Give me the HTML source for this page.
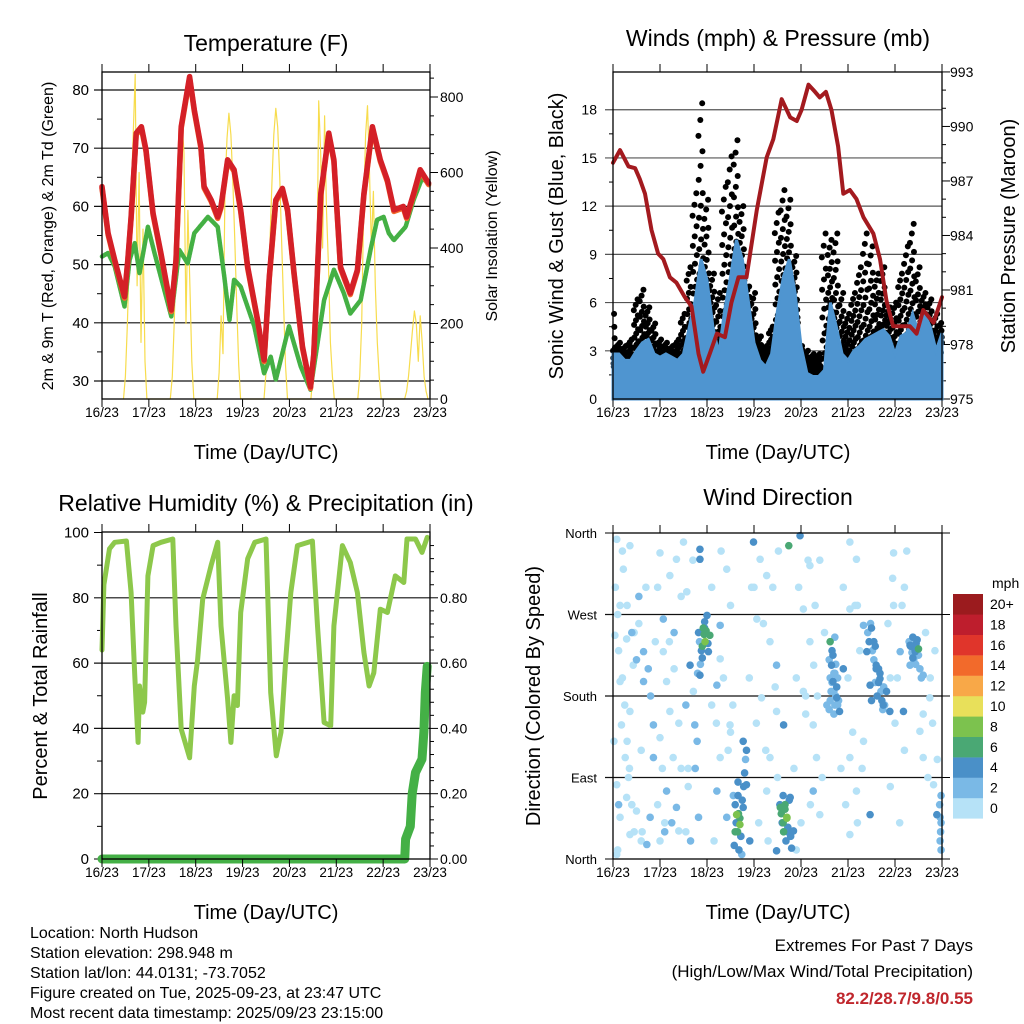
<!DOCTYPE html>
<html><head><meta charset="utf-8">
<style>
html,body{margin:0;padding:0;background:#fff;}
svg{display:block;font-family:"Liberation Sans",sans-serif;}
</style></head>
<body>
<svg id="chart" width="1024" height="1024" viewBox="0 0 1024 1024" xmlns="http://www.w3.org/2000/svg">
<rect width="1024" height="1024" fill="#fff"/>
<g id="layer"></g>
<g font-size="15" fill="#000">
<text x="266" y="51" font-size="23" text-anchor="middle">Temperature (F)</text>
<text x="778" y="46" font-size="23" text-anchor="middle">Winds (mph) &amp; Pressure (mb)</text>
<text x="266" y="511" font-size="23" text-anchor="middle">Relative Humidity (%) &amp; Precipitation (in)</text>
<text x="778" y="505" font-size="23" text-anchor="middle">Wind Direction</text>
<text x="266" y="459" font-size="20" text-anchor="middle">Time (Day/UTC)</text>
<text x="778" y="459" font-size="20" text-anchor="middle">Time (Day/UTC)</text>
<text x="266" y="919" font-size="20" text-anchor="middle">Time (Day/UTC)</text>
<text x="778" y="919" font-size="20" text-anchor="middle">Time (Day/UTC)</text>
<text transform="translate(53,236) rotate(-90)" font-size="16" text-anchor="middle">2m &amp; 9m T (Red, Orange) &amp; 2m Td (Green)</text>
<text transform="translate(497,236) rotate(-90)" font-size="16" text-anchor="middle">Solar Insolation (Yellow)</text>
<text transform="translate(563,236) rotate(-90)" font-size="20" text-anchor="middle">Sonic Wind &amp; Gust (Blue, Black)</text>
<text transform="translate(1015,236) rotate(-90)" font-size="20" text-anchor="middle">Station Pressure (Maroon)</text>
<text transform="translate(47,696) rotate(-90)" font-size="20" text-anchor="middle">Percent &amp; Total Rainfall</text>
<text transform="translate(540,696) rotate(-90)" font-size="20" text-anchor="middle">Direction (Colored By Speed)</text>
<g font-size="16">
<text x="30" y="938">Location: North Hudson</text>
<text x="30" y="958">Station elevation: 298.948 m</text>
<text x="30" y="978">Station lat/lon: 44.0131; -73.7052</text>
<text x="30" y="998">Figure created on Tue, 2025-09-23, at 23:47 UTC</text>
<text x="30" y="1018">Most recent data timestamp: 2025/09/23 23:15:00</text>
</g>
<g font-size="17" text-anchor="end">
<text x="973" y="951">Extremes For Past 7 Days</text>
<text x="973" y="977">(High/Low/Max Wind/Total Precipitation)</text>
<text x="973" y="1004" fill="#c0272d" font-weight="bold">82.2/28.7/9.8/0.55</text>
</g>
</g>
</svg>
<script>
// ---------- data ----------
const dayLabels=["16/23","17/23","18/23","19/23","20/23","21/23","22/23","23/23"];
const tempTicks=[30,40,50,60,70,80];
const solarTicks=[0,200,400,600,800];
const windTicks=[0,3,6,9,12,15,18];
const presTicks=[975,978,981,984,987,990,993];
const rhTicks=[0,20,40,60,80,100];
const rainTicks=["0.00","0.20","0.40","0.60","0.80"];
const dirLabels=["North","East","South","West","North"];
const speedBins=["0","2","4","6","8","10","12","14","16","18","20+"];

const redT_t=[0,.13,.27,.48,.55,.62,.73,.84,.94,1.09,1.26,1.48,1.58,1.69,1.87,1.97,2.11,2.18,2.33,2.47,2.54,2.68,2.82,2.96,3.11,3.32,3.46,3.57,3.71,3.85,3.96,4.1,4.28,4.45,4.52,4.67,4.84,4.95,5.09,5.3,5.45,5.59,5.77,5.94,6.09,6.23,6.43,6.5,6.65,6.79,6.97];
const redT_v=[63.4,55.4,50.8,44.5,50.8,58.2,72.6,73.7,69.7,58.8,51.9,42.2,50.8,73.7,82.3,76.6,70.3,63.4,61.1,58.2,60,68,66.3,59.4,49.6,40.5,33.6,47.9,61.1,63.1,59.4,48.5,35.9,29,34.7,62.2,72.6,68,49.6,45.1,49.1,62.2,73.7,68,64.5,59.4,60,58.2,62.2,66.3,64];
const dew_t=[0,.13,.27,.48,.59,.7,.8,.98,1.12,1.48,1.65,1.83,1.97,2.26,2.47,2.61,2.72,2.82,2.96,3.25,3.46,3.6,3.71,3.85,3.99,4.24,4.45,4.74,4.95,5.16,5.3,5.52,5.73,5.87,6.01,6.12,6.23,6.48,6.65,6.83,6.97];
const dew_v=[51.4,52,49.7,42.8,50.8,53.7,48.5,56.5,52,41.1,52.5,50.2,55.4,58.2,56.5,47.9,40.5,47.4,46.2,39.4,31.3,34.2,30.2,34.8,39.4,32.5,28.5,43.9,49.1,45.1,41.6,43.9,52.5,57.7,58.2,55.4,54.2,56.5,61.1,64.8,64];
const solarHours=[11,12,13,14,15,16,17,18,19,20,21,22,23];
const solarByDay=[
[0,60,200,380,550,700,860,300,600,150,450,100,0],
[0,60,200,400,560,700,740,650,200,500,300,100,0],
[0,70,220,120,560,690,757,700,580,420,250,90,0],
[0,70,230,410,570,700,770,720,590,420,250,90,0],
[0,60,200,300,790,650,400,750,500,350,150,60,0],
[0,60,200,500,700,777,600,400,550,300,150,60,0],
[0,20,60,120,180,233,200,100,220,150,60,20,0]];

const pres_t=[0,.15,.33,.47,.57,.68,.82,.96,1.07,1.21,1.35,1.53,1.67,1.82,1.92,2.06,2.21,2.38,2.52,2.67,2.84,3.06,3.27,3.41,3.59,3.77,3.91,4.01,4.16,4.3,4.4,4.53,4.65,4.79,4.9,5.04,5.18,5.33,5.54,5.68,5.82,5.96,6.11,6.32,6.46,6.6,6.82,7.0];
const pres_v=[988.0,988.7,987.8,987.7,987.1,986.3,984.3,983.0,982.7,981.7,981.4,980.6,980.1,977.5,976.5,977.5,978.6,978.4,980.3,981.7,981.7,985.4,988.3,989.3,991.5,990.5,990.3,990.9,992.3,991.9,991.6,991.9,990.9,988.9,986.3,986.5,986.0,985.0,984.1,982.7,980.4,979.0,979.0,979.0,978.6,979.9,979.2,980.6];
const wind3h=[2.8,2.8,2.4,2.4,3.0,3.5,3.7,2.8,2.6,2.8,2.6,2.4,2.8,4.5,6.2,8.7,7.4,4.5,2.8,5.5,7.6,9.9,8.7,6.2,3.5,2.4,2.0,2.8,5.5,7.6,8.7,6.6,3.3,1.6,1.4,1.4,1.8,6.0,4.5,2.8,2.4,3.0,3.3,3.7,3.9,4.1,4.3,3.9,2.8,3.9,4.1,5.3,4.1,5.3,4.5,3.0,4.1];
const gust3h=[5.3,3.5,3.3,3.7,6.2,6.8,5.7,4.7,3.7,3.5,3.3,3.7,5.3,8.2,12.8,18.4,12.4,7.8,6.6,13.2,15.1,16.1,12,7,6.6,3.9,3.3,4.5,11.6,13,12.4,8.9,3.3,3.0,2.8,2.8,10.3,9.9,10.3,6.6,5.3,6.6,8.2,10.3,9.5,7.8,8.2,5.7,6.0,7.8,9.5,10.9,8.2,6.6,6.2,5.3,4.9];

const rh_t=[0,.04,.16,.27,.52,.62,.7,.77,.8,.87,.91,.98,1.09,1.26,1.51,1.58,1.69,1.87,1.97,2.04,2.15,2.33,2.47,2.54,2.68,2.75,2.82,2.89,2.96,3.11,3.26,3.5,3.6,3.72,3.82,3.92,4.03,4.17,4.49,4.6,4.74,4.88,4.95,5.13,5.3,5.45,5.59,5.7,5.8,5.94,6.09,6.26,6.44,6.51,6.69,6.83,6.94];
const rh_v=[64,84,95,97,97.4,81.6,56,35.7,53,45,48,86.7,96,97,98,71.4,39.8,31,53,61,79.6,90,97,71.4,49,35.7,50,47,75.5,92,97,98,51,31.6,38.8,61,81.6,96,97.4,71.4,41.8,40.8,71.4,96,90.8,81.6,63.3,53,57,76.5,75.5,86.7,84.7,98,98,93.9,98.5];
const rain_t=[0,6.46,6.48,6.58,6.62,6.69,6.83,6.87,6.9,6.94];
const rain_v=[0,0,0.061,0.10,0.20,0.265,0.306,0.39,0.51,0.59];

// wind direction points: time (days), direction (deg), speed (mph)
const dir_t=[.08,.22,.36,.15,.04,.29,.43,.15,.36,.18,.26,.08,.29,.15,.36,.08,.5,.65,.65,.86,.86,.79,.72,1.0,1.21,1.35,1.07,1.07,1.14,1.21,1.0,1.28,1.14,1.35,1.0,1.4,1.57,1.64,1.71,1.74,1.79,1.82,1.85,1.85,2.0,1.96,2.06,2.03,1.85,2.21,2.42,2.28,2.28,2.49,2.28,2.21,2.42,2.63,2.7,2.77,2.84,2.77,2.91,2.99,3.13,3.27,3.06,3.34,3.48,3.16,3.48,3.63,3.34,3.27,3.56,3.7,3.77,3.84,3.48,3.74,3.98,4.19,4.05,4.19,4.27,4.05,4.26,4.33,4.26,4.4,4.62,4.65,4.68,4.76,4.55,4.82,4.9,5.04,5.18,5.04,5.33,5.4,5.55,5.6,5.47,5.68,5.75,5.82,5.89,5.33,5.04,5.18,5.47,5.04,5.97,5.97,6.11,6.18,6.32,6.43,6.5,6.32,6.6,6.74,6.53,6.6,6.82,6.89,6.96,6.96,
.12,.33,.55,.45,.6,.95,1.1,1.3,1.45,1.55,1.9,1.95,2.6,2.66,2.72,3.62,3.66,3.72,4.7,4.72,4.78,5.5,5.58,5.65,6.38,6.45,6.98,6.98,1.6,2.1,2.5,3.0,3.9,4.1,4.4,5.2,5.9,6.2,0.02,0.4];
const dir_v=[353,320,346,280,247,243,214,196,163,148,112,82,68,46,27,5,53,229,196,148,112,46,16,338,313,331,265,229,196,163,134,112,75,57,20,31,295,214,185,148,130,46,342,331,269,240,247,229,203,192,320,258,221,148,112,75,46,49,38,57,82,130,20,350,331,313,265,240,214,178,163,148,112,75,57,46,68,31,9,346,357,324,276,240,214,185,148,112,75,49,240,214,196,178,170,163,210,350,331,276,258,229,240,214,192,199,170,185,163,130,112,75,49,27,338,280,229,163,236,229,232,214,203,178,141,112,82,49,20,46,
60,90,290,250,20,300,40,250,100,30,235,255,30,70,25,40,60,30,185,205,170,175,195,210,222,238,40,70,100,170,140,300,10,180,330,280,200,300,130,60];
const dir_s=[1,1,1,1,1,1,1,1,1,1,1,1,1,1,1,1,1,3,3,3,3,3,3,1,1,1,3,1,1,1,1,1,3,3,1,1,1,4,1,3,3,3,5,5,5,8,7,5,4,3,1,3,1,1,1,3,3,9,8,5,5,4,4,4,1,1,1,1,3,1,1,4,1,1,7,8,5,5,4,7,4,1,1,1,1,1,1,1,3,1,7,4,4,4,3,4,4,1,1,1,3,4,5,4,4,5,4,5,4,1,1,1,4,1,1,1,3,4,5,5,7,3,3,1,1,1,1,4,3,3,
3,1,3,1,1,1,1,3,1,1,7,5,6,5,3,6,7,5,3,3,3,4,3,4,4,5,3,3,1,1,1,1,1,1,1,1,1,1,1,1];
const dir2_t=[4.6,4.62,4.64,4.66,4.7,4.72,4.74,4.76,4.78,4.6,4.68,4.74,4.8,4.7,4.62,4.66,4.72,
5.42,5.45,5.5,5.52,5.55,5.6,5.65,5.7,5.72,5.76,5.78,5.62,5.68,5.58,5.48,5.74,
6.3,6.33,6.36,6.4,6.44,6.47,6.5,6.53,6.38,6.42,6.56,
1.82,1.84,1.88,1.9,1.92,1.94,1.98,2.02,1.86,1.8,1.95,
2.56,2.6,2.62,2.65,2.67,2.7,2.72,2.75,2.78,2.8,2.58,2.68,2.74,2.66,2.82,2.84,
3.55,3.58,3.6,3.63,3.66,3.7,3.72,3.75,3.78,3.8,3.62,3.68,
0.05,0.1,0.12,0.2,0.25,0.3,0.35,0.4,0.45,0.1,0.2,0.3,0.4,0.5,0.55,0.6,0.62,0.7,0.75,0.8,0.9,0.95,1.05,1.1,1.2,1.25,1.3,1.4,1.45,1.5,1.55,1.6,1.65,1.7,1.75,2.1,2.15,2.2,2.3,2.35,2.45,2.5,2.55,2.9,2.95,3.05,3.1,3.2,3.25,3.3,3.4,3.45,3.5,3.52,3.85,3.9,3.95,4.0,4.1,4.15,4.2,4.3,4.35,4.45,4.5,4.85,4.9,4.95,5.0,5.1,5.15,5.2,5.25,5.3,5.85,5.9,5.95,6.0,6.05,6.1,6.15,6.2,6.25,6.6,6.65,6.7,6.75,6.8,6.85,6.9,6.97,6.95,6.98];
const dir2_v=[165,175,185,195,205,170,180,190,200,220,225,215,175,160,200,230,245,
250,240,255,230,220,210,195,185,175,190,170,180,205,235,260,165,
240,235,228,220,215,242,225,210,245,232,200,
250,240,230,222,255,248,252,238,215,205,262,
70,60,40,30,50,45,25,65,80,95,15,10,5,85,110,120,
60,50,40,30,55,45,35,65,25,12,70,20,
300,270,230,200,170,130,100,60,30,10,340,280,250,220,260,120,30,300,210,180,240,60,100,30,240,40,210,150,290,350,170,80,20,330,100,300,20,150,340,200,120,280,170,200,300,150,40,260,120,20,300,190,90,340,100,200,300,40,160,330,60,280,180,90,250,100,300,60,200,140,280,40,230,100,260,80,310,150,200,40,280,120,340,160,250,90,200,150,230,110,30,60,10];
const dir2_s=[3,3,3,3,3,3,3,4,3,3,4,3,3,3,3,4,3,
3,4,4,3,3,4,4,3,4,3,3,4,5,4,3,3,
3,4,3,3,3,5,3,3,5,4,3,
4,3,4,4,6,7,7,5,3,3,4,
3,4,5,6,7,6,5,4,4,4,4,4,3,5,3,4,
5,6,4,6,7,8,5,4,4,4,4,4,
1,1,1,1,1,1,1,1,1,1,1,1,3,3,1,1,1,1,3,3,1,1,1,3,1,3,1,1,1,1,3,1,3,1,3,1,1,1,1,1,1,1,1,1,1,1,1,1,1,1,1,1,1,1,1,1,1,1,1,1,1,1,1,1,1,1,1,1,1,1,1,1,1,1,1,1,1,1,1,1,1,1,1,1,1,1,1,1,1,1,3,3,3];

// ---------- helpers ----------
const NS="http://www.w3.org/2000/svg";
const layer=document.getElementById('layer');
function mk(tag,attrs,parent){const e=document.createElementNS(NS,tag);for(const k in attrs)e.setAttribute(k,attrs[k]);(parent||layer).appendChild(e);return e;}
function txt(x,y,s,size,anchor,parent){const e=mk('text',{x:x,y:y,'font-size':size,'text-anchor':anchor},parent);e.textContent=s;return e;}

function panel(name,L,R,T,B){
  const g=mk('g',{});
  
  
  return {g,L,R,T,B,x:d=>L+(R-L)*d/7};
}
function frame(p){
  const f=mk('rect',{x:p.L,y:p.T,width:p.R-p.L,height:p.B-p.T,fill:'none',stroke:'#000','stroke-width':1.3},p.g);
  
  
  for(let d=0;d<=7;d++){
    const x=p.x(d);
    mk('line',{x1:x,x2:x,y1:p.B,y2:p.B+8,stroke:'#000'},p.g);
    mk('line',{x1:x,x2:x,y1:p.T,y2:p.T-8,stroke:'#000'},p.g);
    const t=txt(x,p.B+18,dayLabels[d],13.5,'middle',p.g);
    
    
  }
}
function hgrid(p,y,col){mk('line',{x1:p.L-8,x2:p.R,y1:y,y2:y,stroke:col||'#111','stroke-width':1.2},p.g);}
function poly(p,xs,ys,attrs,name){
  const pts=xs.map((v,i)=>xs[i].toFixed(1)+','+ys[i].toFixed(1)).join(' ');
  const e=mk('polyline',Object.assign({points:pts,fill:'none','stroke-linejoin':'round','stroke-linecap':'round'},attrs),p.g);
  
  
  return e;
}

// ---------- Temperature ----------
{
  const p=panel('temperature-panel',102,430,72,399);
  const yT=v=>381-(v-30)*5.82;
  const yS=v=>399-v*0.3775;
  tempTicks.forEach(v=>{hgrid(p,yT(v));const t=txt(89,yT(v)+5,String(v),15,'end',p.g);});
  for(let v=35;v<=80;v+=10) mk('line',{x1:p.L-5,x2:p.L,y1:yT(v),y2:yT(v),stroke:'#000'},p.g);
  solarTicks.forEach(v=>{mk('line',{x1:p.R,x2:p.R+8,y1:yS(v),y2:yS(v),stroke:'#000'},p.g);const t=txt(440,yS(v)+5,String(v),14,'start',p.g);});
  for(let v=50;v<=850;v+=50) if(v%200) mk('line',{x1:p.R,x2:p.R+4,y1:yS(v),y2:yS(v),stroke:'#000'},p.g);
  const sx=[],sy=[];
  solarByDay.forEach((arr,d)=>arr.forEach((v,i)=>{sx.push(p.x(d+solarHours[i]/24));sy.push(yS(Math.min(v,870)));}));
  poly(p,sx,sy,{stroke:'#f7dc4d','stroke-width':1.2},'solar-insolation-line');
  poly(p,dew_t.map(p.x),dew_v.map(yT),{stroke:'#44b044','stroke-width':4.5,'stroke-dasharray':'2 1'},'dewpoint-line');
  poly(p,redT_t.map(p.x),redT_v.map(v=>yT(v)+1.5),{stroke:'#f26a2b','stroke-width':5.5},'temp-9m-line');
  poly(p,redT_t.map(p.x),redT_v.map(yT),{stroke:'#d42027','stroke-width':5.5},'temp-2m-line');
  frame(p);
}
// ---------- Winds ----------
{
  const p=panel('winds-panel',613,942,72,399);
  const yW=v=>399-v*16.07;
  const yP=v=>399-(v-975)*18.17;
  windTicks.forEach(v=>{if(v>0)hgrid(p,yW(v),'#555');const t=txt(597,yW(v)+5,String(v),14,'end',p.g);});
  presTicks.forEach(v=>{mk('line',{x1:p.R,x2:p.R+8,y1:yP(v),y2:yP(v),stroke:'#000'},p.g);const t=txt(950,yP(v)+5,String(v),14,'start',p.g);});
  for(let v=976;v<993;v++) if((v-975)%3) mk('line',{x1:p.R,x2:p.R+4,y1:yP(v),y2:yP(v),stroke:'#000'},p.g);
  for(let v=1.5;v<19;v+=3) mk('line',{x1:p.L-4,x2:p.L,y1:yW(v),y2:yW(v),stroke:'#000'},p.g);
  const dots=mk('g',{fill:'#000'},p.g);
  
  
  gust3h.forEach((g,i)=>{
    const w=wind3h[i];const lo=Math.max(w*0.7,1.2);
    const n=22;
    for(let k=0;k<n;k++){
      const f=k/(n-1);
      const v=lo+(g-lo)*Math.pow(f,1.8);
      const tt=i*0.125+(((k*7)%n)/n-0.5)*0.125;
      if(tt<0||tt>7) continue;
      mk('circle',{cx:p.x(tt),cy:yW(v),r:3},dots);
    }
  });
  const bx=[p.x(0)],by=[yW(0)];
  wind3h.forEach((v,i)=>{bx.push(p.x(i*0.125));by.push(yW(v));});
  bx.push(p.x(7));by.push(yW(0));
  const pts=bx.map((x,i)=>x.toFixed(1)+','+by[i].toFixed(1)).join(' ');
  const area=mk('polygon',{points:pts,fill:'#4f95d0',stroke:'#4f95d0','stroke-width':3},p.g);
  
  
  poly(p,pres_t.map(p.x),pres_v.map(yP),{stroke:'#a31a1f','stroke-width':4},'pressure-line');
  frame(p);
}
// ---------- RH ----------
{
  const p=panel('humidity-panel',102,430,532,859);
  const yR=v=>859-v*3.265;
  rhTicks.forEach(v=>{if(v>0&&v<100)hgrid(p,yR(v));else mk('line',{x1:p.L-8,x2:p.L,y1:yR(v),y2:yR(v),stroke:'#000'},p.g);const t=txt(89,yR(v)+5,String(v),15,'end',p.g);});
  for(let v=10;v<100;v+=20) mk('line',{x1:p.L-5,x2:p.L,y1:yR(v),y2:yR(v),stroke:'#000'},p.g);
  rainTicks.forEach((s,i)=>{const y=yR(i*20);mk('line',{x1:p.R,x2:p.R+8,y1:y,y2:y,stroke:'#000'},p.g);const t=txt(440,y+5,s,14,'start',p.g);});
  for(let v=4;v<100;v+=4) if(v%20) mk('line',{x1:p.R,x2:p.R+4,y1:yR(v),y2:yR(v),stroke:'#000'},p.g);
  poly(p,rh_t.map(p.x),rh_v.map(yR),{stroke:'#8dc84b','stroke-width':5},'relative-humidity-line');
  poly(p,rain_t.map(p.x),rain_v.map(v=>yR(v*100)),{stroke:'#44b046','stroke-width':9},'precipitation-line');
  frame(p);
}
// ---------- Wind direction ----------
{
  const p=panel('wind-direction-panel',613,942,533,859);
  const yD=v=>859-v*(326/360);
  dirLabels.forEach((s,i)=>{const y=yD(i*90);if(i>0&&i<4)hgrid(p,y);else mk('line',{x1:p.L-8,x2:p.L,y1:y,y2:y,stroke:'#000'},p.g);mk('line',{x1:p.R,x2:p.R+8,y1:y,y2:y,stroke:'#000'},p.g);const t=txt(597,y+5,s,13,'end',p.g);});
  const cols=['#b6e2f7','#7ab9e6','#4a90c8','#4aa874','#7cc24e','#e8e05a','#f8a848','#f26a2b','#e0352b','#be1e2d','#9b1b1e'];
  const dg=mk('g',{},p.g);
  
  
  const T=dir_t.concat(dir2_t),V=dir_v.concat(dir2_v),S=dir_s.concat(dir2_s);
  const order=S.map((s,i)=>i).sort((a,b)=>S[a]-S[b]);
  order.forEach(i=>{
    const c=cols[Math.min(10,Math.floor(S[i]/2))];
    mk('circle',{cx:p.x(T[i]),cy:yD(V[i]),r:3.8,fill:c},dg);
  });
  frame(p);
  const cb=mk('g',{});
  
  
  txt(992,588,'mph',14,'start',cb);
  speedBins.forEach((s,i)=>{
    const y=594+(10-i)*20.4;
    mk('rect',{x:953,y:y,width:30,height:20.6,fill:cols[i]},cb);
    txt(990,y+15,s,14,'start',cb);
  });
}
</script>
</body></html>
